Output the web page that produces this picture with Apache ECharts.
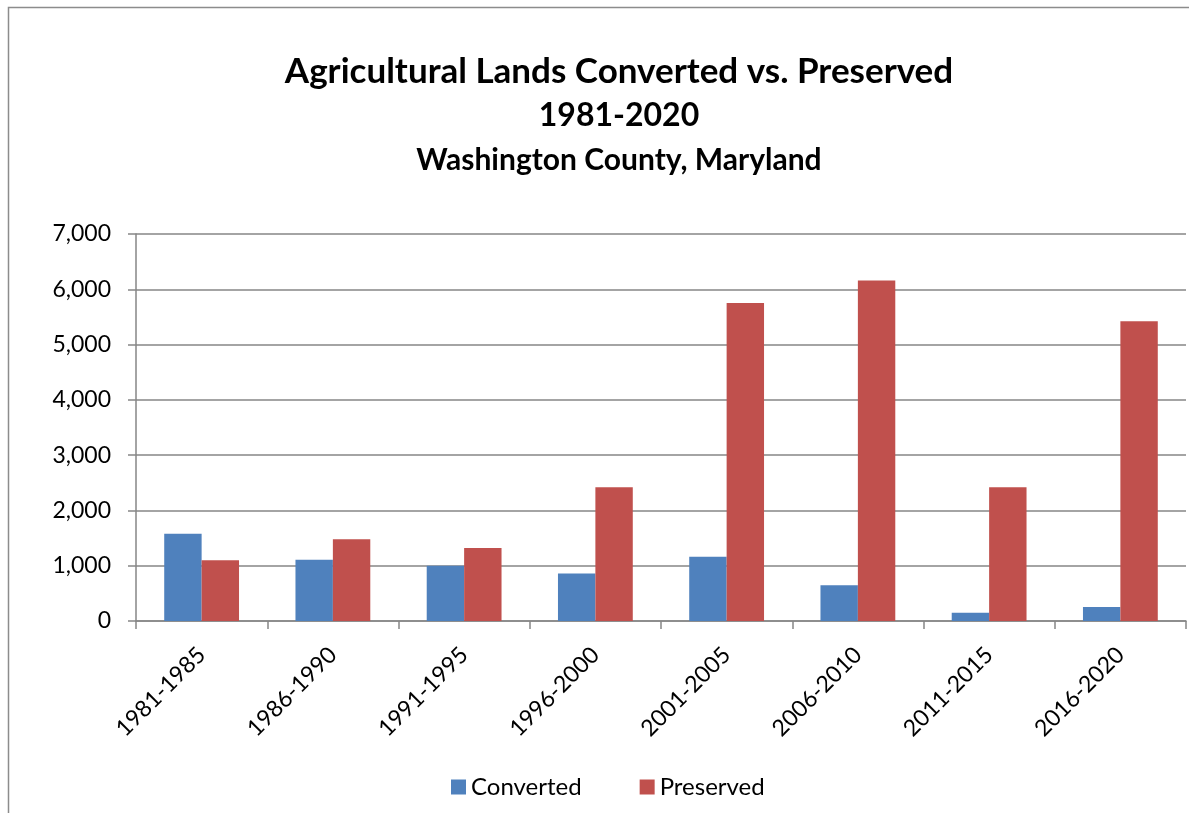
<!DOCTYPE html>
<html>
<head>
<meta charset="utf-8">
<script src="https://cdn.jsdelivr.net/npm/echarts@6/dist/echarts.min.js"></script>
<style>
html,body{margin:0;padding:0;background:#fff;}
#c{width:1189px;height:813px;}
</style>
</head>
<body>
<div id="c"></div>
<script>
const categories = ['1981-1985','1986-1990','1991-1995','1996-2000','2001-2005','2006-2010','2011-2015','2016-2020'];
const converted = [1580, 1110, 1000, 860, 1160, 645, 150, 255];
const preserved = [1100, 1480, 1320, 2420, 5750, 6160, 2420, 5420];
const seriesNames = ['Converted', 'Preserved'];
const titleLines = ['Agricultural Lands Converted vs. Preserved', '1981-2020', 'Washington County, Maryland'];

const FONT = 'Lato, "Open Sans", sans-serif';
const chart = echarts.init(document.getElementById('c'), null, {renderer:'canvas'});
chart.setOption({
  animation: false,
  backgroundColor: '#ffffff',
  graphic: [{
    type: 'rect', silent: true, z: -1,
    shape: {x: 8.5, y: 7.5, width: 1400, height: 1000},
    style: {fill: 'none', stroke: '#8c8c8c', lineWidth: 1.5}
  }],
  title: [
    {text: titleLines[0], left: 614, top: 49, textAlign: 'center',
     textStyle: {fontFamily: FONT, fontWeight: 'bold', fontSize: 35, color: '#000'}},
    {text: titleLines[1], left: 614, top: 95, textAlign: 'center',
     textStyle: {fontFamily: FONT, fontWeight: 'bold', fontSize: 32, color: '#000'}},
    {text: titleLines[2], left: 614, top: 140, textAlign: 'center',
     textStyle: {fontFamily: FONT, fontWeight: 'bold', fontSize: 30, color: '#000'}}
  ],
  legend: {
    data: seriesNames,
    left: 446, top: 770,
    itemWidth: 15, itemHeight: 15, itemGap: 58,
    icon: 'rect',
    textStyle: {fontFamily: FONT, fontSize: 24, color: '#000'}
  },
  grid: {left: 136, right: 3, top: 234, bottom: 192, containLabel: false},
  xAxis: {
    type: 'category',
    data: categories,
    axisLine: {lineStyle: {color: '#868686', width: 1.5}},
    axisTick: {show: true, length: 8, lineStyle: {color: '#868686', width: 1.5}},
    axisLabel: {rotate: 45, margin: 30, fontFamily: FONT, fontSize: 23, color: '#000'}
  },
  yAxis: {
    type: 'value',
    min: 0, max: 7000, interval: 1000,
    axisLine: {show: true, lineStyle: {color: '#868686', width: 1.5}},
    axisTick: {show: true, length: 8, lineStyle: {color: '#868686', width: 1.5}},
    splitLine: {lineStyle: {color: '#868686', width: 1.5}},
    axisLabel: {
      margin: 25, fontFamily: FONT, fontSize: 23, color: '#000',
      formatter: v => v.toLocaleString('en-US')
    }
  },
  series: [
    {name: seriesNames[0], type: 'bar', data: converted, barGap: '0%', barCategoryGap: '43%',
     itemStyle: {color: '#4F81BD'}},
    {name: seriesNames[1], type: 'bar', data: preserved, barGap: '0%', barCategoryGap: '43%',
     itemStyle: {color: '#C0504D'}}
  ]
});
</script>
</body>
</html>
